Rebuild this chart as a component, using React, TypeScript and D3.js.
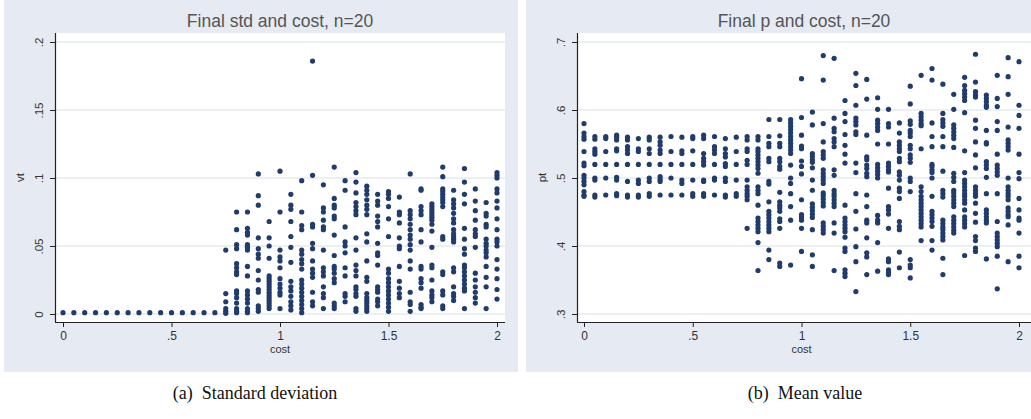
import { useEffect, useRef } from 'react';
import * as d3 from 'd3';

// cost grid (x values of each column)
const costs = [
    0, 0.05, 0.1, 0.15, 0.2, 0.25, 0.3, 0.35, 0.4, 0.45, 0.5, 0.55, 0.6, 0.65, 0.7, 0.75, 0.8, 0.85, 0.9, 0.95, 1.0,
    1.05, 1.1, 1.15, 1.2, 1.25, 1.3, 1.35, 1.4, 1.45, 1.5, 1.55, 1.6, 1.65, 1.7, 1.75, 1.8, 1.85, 1.9, 1.95, 2.0,
];

// final std (vt) per cost column
const stdValues = [
    [0.001], [0.001], [0.001], [0.001], [0.001], [0.001], [0.001], [0.001],
    [0.001], [0.001], [0.001], [0.001], [0.001], [0.001], [0.001],
    [0.047, 0.015, 0.009, 0.004, 0.002, 0.0005],
    [0.075, 0.062, 0.051, 0.048, 0.037, 0.034, 0.031, 0.029, 0.017, 0.015, 0.012, 0.008, 0.004, 0.002, 0.001],
    [0.075, 0.063, 0.06, 0.058, 0.051, 0.049, 0.047, 0.035, 0.028, 0.017, 0.014, 0.011, 0.008, 0.004, 0.002, 0.001],
    [0.103, 0.087, 0.08, 0.056, 0.048, 0.044, 0.041, 0.032, 0.025, 0.018, 0.016, 0.006, 0.004, 0.002],
    [0.068, 0.056, 0.05, 0.041, 0.028, 0.026, 0.024, 0.022, 0.02, 0.018, 0.016, 0.014, 0.012, 0.01, 0.008, 0.006, 0.004],
    [0.105, 0.075, 0.047, 0.042, 0.039, 0.034, 0.026, 0.022, 0.019, 0.016, 0.014, 0.004],
    [0.088, 0.08, 0.077, 0.068, 0.057, 0.049, 0.038, 0.024, 0.02, 0.017, 0.013, 0.009, 0.006, 0.003],
    [0.098, 0.075, 0.065, 0.062, 0.047, 0.044, 0.04, 0.037, 0.033, 0.025, 0.022, 0.019, 0.016, 0.013, 0.01, 0.007, 0.004, 0.001],
    [0.186, 0.102, 0.066, 0.064, 0.052, 0.048, 0.039, 0.033, 0.03, 0.027, 0.016, 0.009, 0.006],
    [0.095, 0.078, 0.075, 0.069, 0.064, 0.062, 0.047, 0.034, 0.031, 0.028, 0.02, 0.015, 0.012, 0.004],
    [0.108, 0.085, 0.08, 0.078, 0.072, 0.07, 0.058, 0.043, 0.035, 0.033, 0.03, 0.026, 0.023, 0.008, 0.006, 0.004],
    [0.098, 0.091, 0.064, 0.053, 0.05, 0.045, 0.034, 0.028, 0.015, 0.013, 0.009],
    [0.104, 0.097, 0.089, 0.082, 0.079, 0.076, 0.073, 0.056, 0.047, 0.036, 0.032, 0.028, 0.02, 0.018, 0.015, 0.013, 0.004, 0.002],
    [0.094, 0.091, 0.088, 0.084, 0.08, 0.077, 0.073, 0.059, 0.053, 0.039, 0.027, 0.024, 0.015, 0.012, 0.01, 0.008, 0.006, 0.004, 0.002],
    [0.088, 0.083, 0.08, 0.072, 0.068, 0.064, 0.052, 0.045, 0.043, 0.036, 0.02, 0.018, 0.016, 0.011, 0.009, 0.006],
    [0.09, 0.088, 0.085, 0.079, 0.07, 0.057, 0.033, 0.03, 0.026, 0.023, 0.02, 0.017, 0.014, 0.011, 0.008, 0.005, 0.002],
    [0.086, 0.075, 0.073, 0.067, 0.056, 0.05, 0.048, 0.035, 0.024, 0.019, 0.015, 0.012],
    [0.103, 0.076, 0.073, 0.07, 0.066, 0.062, 0.058, 0.055, 0.051, 0.047, 0.039, 0.033, 0.016, 0.009, 0.007, 0.002],
    [0.092, 0.091, 0.079, 0.076, 0.073, 0.062, 0.053, 0.035, 0.033, 0.026, 0.023, 0.019, 0.007, 0.005, 0.004],
    [0.081, 0.079, 0.077, 0.075, 0.073, 0.071, 0.069, 0.066, 0.061, 0.049, 0.036, 0.034, 0.025, 0.017, 0.014, 0.012, 0.009],
    [0.108, 0.101, 0.092, 0.09, 0.088, 0.086, 0.084, 0.082, 0.079, 0.057, 0.055, 0.031, 0.029, 0.017, 0.014, 0.006, 0.004],
    [0.091, 0.084, 0.081, 0.078, 0.074, 0.07, 0.067, 0.062, 0.059, 0.057, 0.055, 0.053, 0.034, 0.031, 0.02, 0.015, 0.013, 0.01],
    [0.107, 0.097, 0.088, 0.081, 0.063, 0.055, 0.048, 0.044, 0.036, 0.034, 0.031, 0.028, 0.025, 0.022, 0.019, 0.017, 0.004],
    [0.092, 0.083, 0.076, 0.069, 0.062, 0.059, 0.057, 0.049, 0.03, 0.025, 0.02, 0.016, 0.012, 0.008],
    [0.082, 0.074, 0.072, 0.066, 0.064, 0.055, 0.052, 0.05, 0.047, 0.045, 0.042, 0.035, 0.027, 0.02, 0.004],
    [0.104, 0.102, 0.1, 0.092, 0.089, 0.083, 0.078, 0.07, 0.062, 0.055, 0.053, 0.05, 0.04, 0.033, 0.026, 0.018, 0.011],
];

// final p (pt) per cost column
const pValues = [
    [0.58, 0.566, 0.561, 0.557, 0.539, 0.522, 0.518, 0.504, 0.5, 0.495, 0.49, 0.48, 0.475, 0.473],
    [0.561, 0.557, 0.543, 0.539, 0.535, 0.52, 0.5, 0.497, 0.475, 0.472],
    [0.561, 0.558, 0.539, 0.52, 0.5, 0.475],
    [0.563, 0.56, 0.556, 0.543, 0.54, 0.52, 0.501, 0.497, 0.477, 0.474],
    [0.56, 0.556, 0.546, 0.541, 0.536, 0.52, 0.495, 0.475, 0.472],
    [0.558, 0.543, 0.539, 0.52, 0.497, 0.492, 0.475, 0.472],
    [0.56, 0.556, 0.543, 0.536, 0.52, 0.5, 0.495, 0.477, 0.473],
    [0.56, 0.553, 0.548, 0.541, 0.536, 0.52, 0.502, 0.498, 0.495, 0.475],
    [0.561, 0.539, 0.52, 0.5, 0.475],
    [0.56, 0.54, 0.536, 0.52, 0.497, 0.492, 0.475],
    [0.561, 0.558, 0.54, 0.52, 0.497, 0.477, 0.473],
    [0.563, 0.558, 0.536, 0.529, 0.524, 0.519, 0.497, 0.495, 0.477, 0.473],
    [0.561, 0.546, 0.541, 0.536, 0.52, 0.5, 0.497, 0.475],
    [0.558, 0.543, 0.536, 0.531, 0.521, 0.517, 0.5, 0.495, 0.475, 0.472],
    [0.56, 0.539, 0.52, 0.497, 0.477, 0.473],
    [0.561, 0.556, 0.543, 0.539, 0.526, 0.52, 0.497, 0.487, 0.482, 0.477, 0.473, 0.468, 0.426],
    [0.561, 0.556, 0.543, 0.539, 0.534, 0.529, 0.524, 0.519, 0.514, 0.507, 0.487, 0.482, 0.477, 0.46, 0.441, 0.436, 0.431, 0.426, 0.421, 0.405, 0.364],
    [0.586, 0.561, 0.551, 0.546, 0.529, 0.524, 0.495, 0.491, 0.465, 0.451, 0.446, 0.441, 0.436, 0.431, 0.426, 0.421, 0.394, 0.38],
    [0.586, 0.562, 0.551, 0.546, 0.529, 0.524, 0.517, 0.513, 0.479, 0.465, 0.46, 0.456, 0.451, 0.44, 0.436, 0.426, 0.375, 0.37],
    [0.586, 0.581, 0.576, 0.571, 0.566, 0.561, 0.556, 0.551, 0.546, 0.541, 0.536, 0.519, 0.5, 0.492, 0.477, 0.458, 0.438, 0.372],
    [0.646, 0.589, 0.563, 0.547, 0.543, 0.525, 0.517, 0.506, 0.468, 0.446, 0.442, 0.438, 0.426, 0.392],
    [0.597, 0.578, 0.536, 0.532, 0.527, 0.523, 0.515, 0.497, 0.482, 0.462, 0.457, 0.452, 0.447, 0.442, 0.424, 0.387, 0.37],
    [0.68, 0.644, 0.58, 0.553, 0.539, 0.534, 0.529, 0.512, 0.507, 0.502, 0.497, 0.492, 0.478, 0.474, 0.469, 0.464, 0.459, 0.434, 0.429, 0.424, 0.419],
    [0.676, 0.588, 0.573, 0.568, 0.558, 0.553, 0.546, 0.512, 0.504, 0.482, 0.477, 0.473, 0.468, 0.463, 0.458, 0.434, 0.419, 0.364],
    [0.614, 0.595, 0.583, 0.564, 0.548, 0.535, 0.522, 0.46, 0.441, 0.436, 0.431, 0.426, 0.421, 0.413, 0.397, 0.392, 0.365, 0.36, 0.355],
    [0.654, 0.636, 0.607, 0.588, 0.583, 0.578, 0.568, 0.564, 0.522, 0.508, 0.477, 0.451, 0.425, 0.399, 0.377, 0.333],
    [0.645, 0.616, 0.563, 0.531, 0.527, 0.519, 0.514, 0.507, 0.502, 0.475, 0.458, 0.438, 0.434, 0.412, 0.39, 0.384, 0.358],
    [0.618, 0.601, 0.585, 0.58, 0.575, 0.57, 0.55, 0.52, 0.515, 0.51, 0.505, 0.5, 0.445, 0.438, 0.434, 0.405, 0.363],
    [0.601, 0.58, 0.575, 0.55, 0.522, 0.517, 0.512, 0.509, 0.485, 0.458, 0.453, 0.447, 0.426, 0.381, 0.377, 0.365, 0.361, 0.358],
    [0.581, 0.566, 0.553, 0.548, 0.543, 0.539, 0.529, 0.524, 0.509, 0.504, 0.497, 0.485, 0.48, 0.47, 0.436, 0.429, 0.424, 0.391, 0.368],
    [0.635, 0.609, 0.584, 0.579, 0.57, 0.566, 0.561, 0.548, 0.543, 0.534, 0.529, 0.523, 0.5, 0.495, 0.48, 0.38, 0.372, 0.368, 0.353],
    [0.651, 0.595, 0.59, 0.585, 0.58, 0.577, 0.543, 0.487, 0.48, 0.473, 0.468, 0.463, 0.458, 0.453, 0.448, 0.443, 0.438, 0.433, 0.428, 0.408],
    [0.661, 0.644, 0.581, 0.561, 0.546, 0.52, 0.517, 0.512, 0.508, 0.5, 0.473, 0.451, 0.446, 0.441, 0.436, 0.429, 0.408, 0.394],
    [0.638, 0.595, 0.586, 0.581, 0.576, 0.561, 0.546, 0.51, 0.482, 0.477, 0.472, 0.438, 0.433, 0.428, 0.424, 0.419, 0.414, 0.409, 0.382, 0.358],
    [0.623, 0.601, 0.578, 0.573, 0.568, 0.563, 0.558, 0.545, 0.507, 0.501, 0.495, 0.482, 0.478, 0.473, 0.468, 0.463, 0.458, 0.443, 0.438, 0.433, 0.428, 0.423, 0.419],
    [0.648, 0.636, 0.629, 0.624, 0.619, 0.614, 0.596, 0.54, 0.508, 0.497, 0.492, 0.487, 0.482, 0.477, 0.473, 0.468, 0.463, 0.453, 0.443, 0.438, 0.433, 0.428, 0.386],
    [0.682, 0.641, 0.627, 0.622, 0.619, 0.585, 0.573, 0.553, 0.534, 0.515, 0.487, 0.482, 0.477, 0.473, 0.463, 0.448, 0.435, 0.414, 0.408, 0.397, 0.392],
    [0.622, 0.617, 0.612, 0.607, 0.604, 0.57, 0.552, 0.55, 0.524, 0.519, 0.514, 0.501, 0.477, 0.453, 0.448, 0.443, 0.438, 0.434, 0.381],
    [0.651, 0.617, 0.605, 0.583, 0.57, 0.535, 0.519, 0.514, 0.509, 0.504, 0.477, 0.436, 0.419, 0.414, 0.409, 0.404, 0.399, 0.385, 0.337],
    [0.677, 0.649, 0.623, 0.575, 0.556, 0.551, 0.546, 0.541, 0.5, 0.487, 0.482, 0.477, 0.473, 0.468, 0.456, 0.451, 0.446, 0.443, 0.431, 0.377],
    [0.671, 0.607, 0.592, 0.573, 0.535, 0.508, 0.499, 0.47, 0.453, 0.441, 0.438, 0.419, 0.385, 0.368],
];

const xTicks = [0, 0.5, 1, 1.5, 2];
const xTickLabels = ['0', '.5', '1', '1.5', '2'];
const stdTicks = [0, 0.05, 0.1, 0.15, 0.2];
const stdTickLabels = ['0', '.05', '.1', '.15', '.2'];
const pTicks = [0.3, 0.4, 0.5, 0.6, 0.7];
const pTickLabels = ['.3', '.4', '.5', '.6', '.7'];

const panels = [
    {
        title: 'Final std and cost, n=20',
        yTitle: 'vt',
        caption: '(a)  Standard deviation',
        values: stdValues,
        yDomain: [0, 0.2],
        yTicks: stdTicks,
        yTickLabels: stdTickLabels,
    },
    {
        title: 'Final p and cost, n=20',
        yTitle: 'pt',
        caption: '(b)  Mean value',
        values: pValues,
        yDomain: [0.3, 0.7],
        yTicks: pTicks,
        yTickLabels: pTickLabels,
    },
];

// panel boxes in page pixels
const boxes = [
    { bgX: 4, bgW: 514, plotX: 55, plotW: 450, x0: 63, x1: 497, capX: 255 },
    { bgX: 526, bgW: 505, plotX: 577, plotW: 454, x0: 584, x1: 1019, capX: 805 },
];

export default function App() {
    const svgRef = useRef<SVGSVGElement>(null);

    useEffect(() => {
        const svg = d3.select(svgRef.current);
        svg.selectAll('*').remove();

        const font = 'Arial, "Liberation Sans", Helvetica, sans-serif';
        const plotTop = 33;
        const axisY = 322;
        const yTop = 42;
        const yBottom = 314;

        panels.forEach((p, i) => {
            const b = boxes[i];
            const g = svg.append('g');

            // graph region
            g.append('rect')
                .attr('x', b.bgX)
                .attr('y', 0)
                .attr('width', b.bgW)
                .attr('height', 372)
                .attr('fill', '#e6eaf2');

            // plot region
            g.append('rect')
                .attr('x', b.plotX)
                .attr('y', plotTop)
                .attr('width', b.plotW)
                .attr('height', axisY - plotTop)
                .attr('fill', '#ffffff');

            const x = d3.scaleLinear().domain([0, 2]).range([b.x0, b.x1]);
            const y = d3.scaleLinear().domain(p.yDomain).range([yBottom, yTop]);

            // grid lines
            g.append('g')
                .selectAll('line')
                .data(p.yTicks)
                .enter()
                .append('line')
                .attr('x1', b.plotX + 1)
                .attr('x2', b.plotX + b.plotW)
                .attr('y1', (d) => y(d))
                .attr('y2', (d) => y(d))
                .attr('stroke', '#e6ebee')
                .attr('stroke-width', 1.5);

            // x axis
            const xAxis = g
                .append('g')
                .attr('transform', `translate(0,${axisY})`)
                .call(
                    d3
                        .axisBottom(x)
                        .tickValues(xTicks)
                        .tickFormat((d, k) => xTickLabels[k])
                        .tickSize(5)
                        .tickSizeOuter(0)
                        .tickPadding(4)
                );
            xAxis.select('.domain').attr('d', `M${b.plotX},0.5H${b.plotX + b.plotW}`).attr('stroke', '#222').attr('stroke-width', 1.2);
            xAxis.selectAll('.tick line').attr('stroke', '#222');
            xAxis
                .selectAll('.tick text')
                .attr('fill', '#333')
                .style('font-family', font)
                .style('font-size', '12px');

            // y axis
            const yAxis = g
                .append('g')
                .attr('transform', `translate(${b.plotX},0)`)
                .call(
                    d3
                        .axisLeft(y)
                        .tickValues(p.yTicks)
                        .tickFormat((d, k) => p.yTickLabels[k])
                        .tickSize(5)
                        .tickSizeOuter(0)
                );
            yAxis.select('.domain').attr('d', `M0.5,${plotTop}V${axisY}`).attr('stroke', '#222').attr('stroke-width', 1.2);
            yAxis.selectAll('.tick line').attr('stroke', '#222');
            yAxis
                .selectAll('.tick text')
                .attr('fill', '#333')
                .attr('x', null)
                .attr('dy', null)
                .attr('text-anchor', 'middle')
                .attr('transform', 'translate(-12,0) rotate(-90)')
                .style('font-family', font)
                .style('font-size', '11.5px');

            // points
            const points = p.values.flatMap((col, k) => col.map((v) => ({ cost: costs[k], v })));
            g.append('g')
                .selectAll('circle')
                .data(points)
                .enter()
                .append('circle')
                .attr('cx', (d) => x(d.cost))
                .attr('cy', (d) => y(d.v))
                .attr('r', 2.6)
                .attr('fill', '#1f3c6d');

            // titles
            g.append('text')
                .attr('x', (b.plotX + b.plotX + b.plotW) / 2)
                .attr('y', 27)
                .attr('text-anchor', 'middle')
                .attr('fill', '#555')
                .style('font-family', font)
                .style('font-size', '17.5px')
                .text(p.title);

            g.append('text')
                .attr('x', x(1))
                .attr('y', 353)
                .attr('text-anchor', 'middle')
                .attr('fill', '#333')
                .style('font-family', font)
                .style('font-size', '11px')
                .text('cost');

            g.append('text')
                .attr('transform', `translate(${b.plotX - 31},${(plotTop + axisY) / 2}) rotate(-90)`)
                .attr('text-anchor', 'middle')
                .attr('fill', '#333')
                .style('font-family', font)
                .style('font-size', '11.5px')
                .text(p.yTitle);

            // caption
            g.append('text')
                .attr('x', b.capX)
                .attr('y', 399)
                .attr('text-anchor', 'middle')
                .attr('fill', '#111')
                .style('font-family', '"Liberation Serif", "Times New Roman", serif')
                .style('font-size', '18px')
                .style('white-space', 'pre')
                .text(p.caption);
        });
    }, []);

    return (
        <svg
            ref={svgRef}
            width={1031}
            height={419}
            style={{ position: 'absolute', left: 0, top: 0, background: '#ffffff' }}
        ></svg>
    );
}
